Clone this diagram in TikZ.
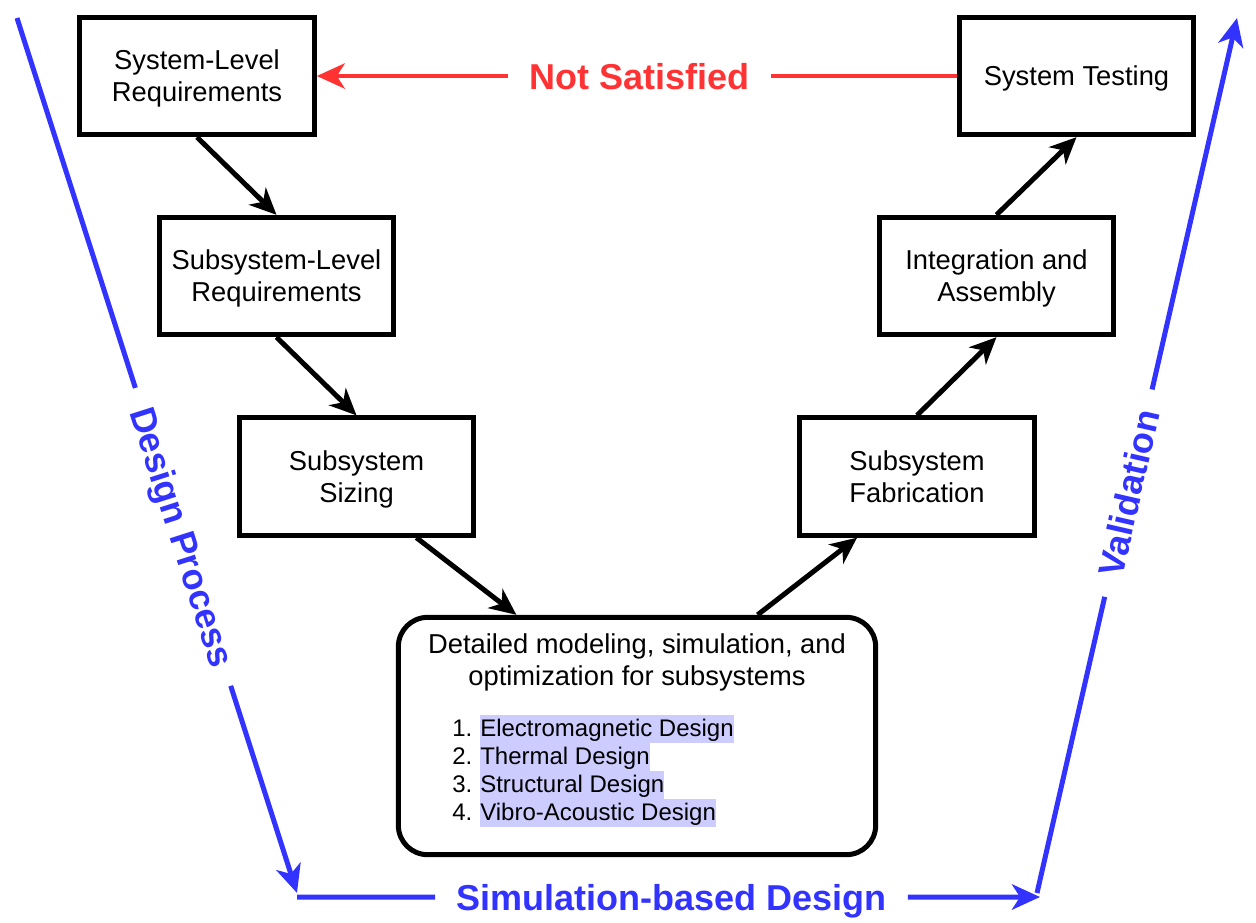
\documentclass[tikz,border=0pt]{standalone}
\usepackage{fontspec}
\setmainfont{Liberation Sans}
\usetikzlibrary{arrows.meta,calc}

\definecolor{vblue}{RGB}{51,51,255}
\definecolor{vred}{RGB}{255,51,51}
\definecolor{hlblue}{RGB}{204,204,255}

\newcommand{\hlitem}[1]{{\setlength{\fboxsep}{0pt}\colorbox{hlblue}{\rule[-5pt]{0pt}{21pt}#1}}}

\tikzset{
  stepbox/.style={draw, line width=3.75pt, minimum width=176pt, minimum height=88pt, inner sep=0pt, align=center, font=\fontsize{20.5}{24}\selectfont, text depth=0pt},
  detailbox/.style={draw, line width=3.75pt, rounded corners=22pt, minimum width=358pt, minimum height=178pt, inner sep=0pt},
  flow/.style={line width=3.75pt, -{Stealth[length=20pt,width=18pt,inset=6pt]}},
  vline/.style={vblue, line width=3.75pt},
  varrow/.style={vline, -{Stealth[length=21pt,width=19pt,inset=6pt]}},
  vlabel/.style={text=vblue, font=\fontsize{27}{32}\selectfont\bfseries, inner xsep=16pt, inner ysep=0pt, outer sep=0pt, text depth=0pt},
  rlabel/.style={vlabel, text=vred},
  itemtext/.style={anchor=west, inner sep=0pt, font=\fontsize{18}{21}\selectfont}
}

\begin{document}
\begin{tikzpicture}[x=0.75pt,y=0.75pt,yscale=-1,xscale=1]
\useasboundingbox (0,0) rectangle (1256,922);

%Coordinates of the blue V
\coordinate (dpStart) at (17,18);
\coordinate (dpEnd) at (297,893);
\coordinate (simStart) at (297,897);
\coordinate (simEnd) at (1040,897);
\coordinate (valStart) at (1037,893);
\coordinate (valEnd) at (1237,18);

% Text Node
\node [vlabel, rotate=-72.3] (dpLabel) at ($(dpStart)!0.593!(dpEnd)$) {Design Process};
% Text Node
\node [vlabel] (simLabel) at ($(simStart)!0.504!(simEnd)$) {Simulation-based Design};
% Text Node
\node [vlabel, rotate=77.1] (valLabel) at ($(valStart)!0.457!(valEnd)$) {Validation};

%Straight Lines
\draw [vline] (dpStart) -- (dpLabel);
\draw [varrow] (dpLabel) -- (dpEnd);
%Straight Lines
\draw [vline] (simStart) -- (simLabel);
\draw [varrow] (simLabel) -- (simEnd);
%Straight Lines
\draw [vline] (valStart) -- (valLabel);
\draw [varrow] (valLabel) -- (valEnd);

%Rectangles
\node [stepbox] (sysReq) at (197,76) {System-Level\\Requirements};
\node [stepbox] (subReq) at (276.5,276) {Subsystem-Level\\Requirements};
\node [stepbox] (sizing) at (356.5,476.5) {Subsystem\\Sizing};
\node [stepbox] (fab) at (917,476.5) {Subsystem\\Fabrication};
\node [stepbox] (integ) at (996.5,276) {Integration and\\Assembly};
\node [stepbox] (test) at (1076.5,76) {System Testing};

%Rounded Rect
\node [detailbox] (detail) at (637,736) {};
% Text Node
\node [align=center, inner sep=0pt, font=\fontsize{20.5}{24}\selectfont] (detailTitle) at (637,662) {Detailed modeling, simulation, and\\optimization for subsystems};
% Text Node
\node [itemtext] (item1) at (452,729) {1.\hspace{6pt}\hlitem{Electromagnetic Design}};
\node [itemtext] (item2) at (452,757) {2.\hspace{6pt}\hlitem{Thermal Design}};
\node [itemtext] (item3) at (452,785) {3.\hspace{6pt}\hlitem{Structural Design}};
\node [itemtext] (item4) at (452,813) {4.\hspace{6pt}\hlitem{Vibro-Acoustic Design}};

%Straight Lines
\draw [flow] (sysReq.south) -- (subReq.north);
\draw [flow] (subReq.south) -- (sizing.north);
\draw [flow] ($(sizing.south)!0.5!(sizing.south east)$) -- ($(detail.north)!0.5!(detail.north west)$);
\draw [flow] ($(detail.north)!0.5!(detail.north east)$) -- ($(fab.south)!0.5!(fab.south west)$);
\draw [flow] (fab.north) -- (integ.south);
\draw [flow] (integ.north) -- (test.south);

% Text Node
\node [rlabel] (notSat) at ($(test.west)!0.496!(sysReq.east)$) {Not Satisfied};
%Straight Lines
\draw [vred, line width=3pt] (test.west) -- (notSat);
\draw [vred, line width=3pt, -{Stealth[length=21pt,width=19pt,inset=6pt]}] (notSat) -- (sysReq.east);

\end{tikzpicture}
\end{document}
